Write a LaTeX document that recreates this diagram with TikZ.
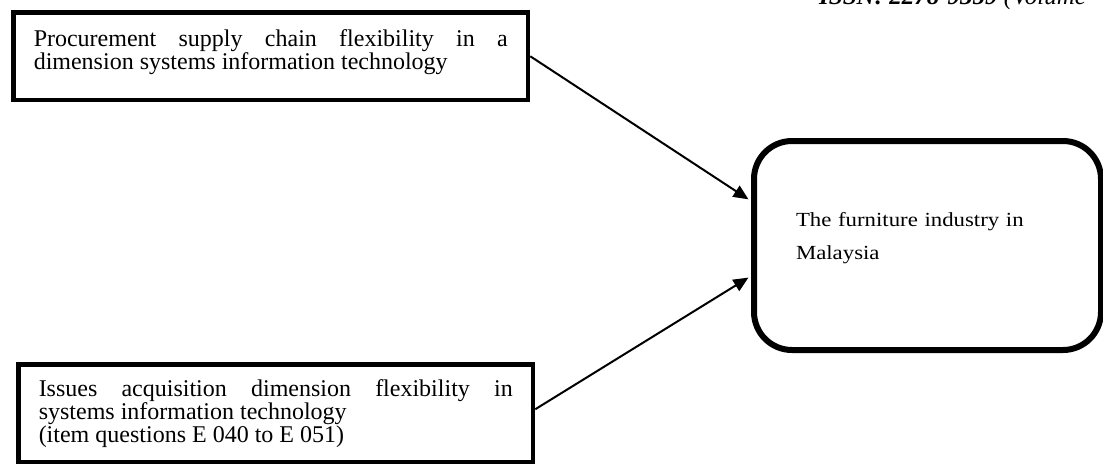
\documentclass[tikz,border=0pt]{standalone}
\usepackage{fontspec}
\setmainfont{Liberation Serif}
\newfontfamily\fwWide[FakeStretch=1.14]{Liberation Serif}
\usetikzlibrary{arrows.meta, calc}
\definecolor{fwInk}{HTML}{000000}
\setlength{\parindent}{0pt}
\tikzset{
  fwbox/.style={
    draw=fwInk, fill=white, line width=4.5pt, anchor=north west,
    text width=474pt, inner xsep=20.25pt, inner ysep=0pt,
    minimum width=514.5pt, align=justify,
    font=\fontsize{24}{22.5}\selectfont,
  },
  fwround/.style={
    draw=fwInk, fill=white, line width=6pt, rounded corners=38pt,
    anchor=north west, text width=263pt, inner xsep=42pt, inner ysep=0pt,
    minimum width=347pt, minimum height=209pt, align=left,
    font=\fwWide\fontsize{20}{33}\selectfont,
  },
  fwarrow/.style={
    -{Triangle[length=15pt, width=13pt]}, draw=fwInk, line width=2pt,
  },
}

\begin{document}
\begin{tikzpicture}[x=1pt, y=-1pt]
\useasboundingbox (0,0) rectangle (1103,464);

% Running head, cut by the page edge ----------------------------------------
\begin{scope}
  \clip (0,0) rectangle (1103,464);
  \node[anchor=base west, inner sep=0pt, font=\fontsize{25}{30}\selectfont]
    (issn) at (819,4) {\textbf{\textit{ISSN: 2278-9359}} \textit{(Volume-}};
\end{scope}

% Boxes ---------------------------------------------------------------------
\node[fwbox, minimum height=87.5pt, text depth=36pt] (proc) at (11.25,10.25) {%
  Procurement supply chain flexibility in a\linebreak
  dimension systems information technology};

\node[fwbox, minimum height=97.5pt, font=\fontsize{24}{23}\selectfont]
  (acq) at (16.25,362.25) {%
  Issues acquisition dimension flexibility in\linebreak
  systems information technology\newline
  (item questions E 040 to E 051)};

\node[fwround, text depth=53pt] (furn) at (751,138) {%
  The furniture industry in\newline Malaysia};

% Flow ----------------------------------------------------------------------
\draw[fwarrow, shorten >=3pt] (proc.east) -- ($(furn.west)+(0,-44.5)$);
\draw[fwarrow, shorten >=3pt] ($(acq.east)+(0,-4)$) -- ($(furn.west)+(0,30.5)$);

\end{tikzpicture}
\end{document}
